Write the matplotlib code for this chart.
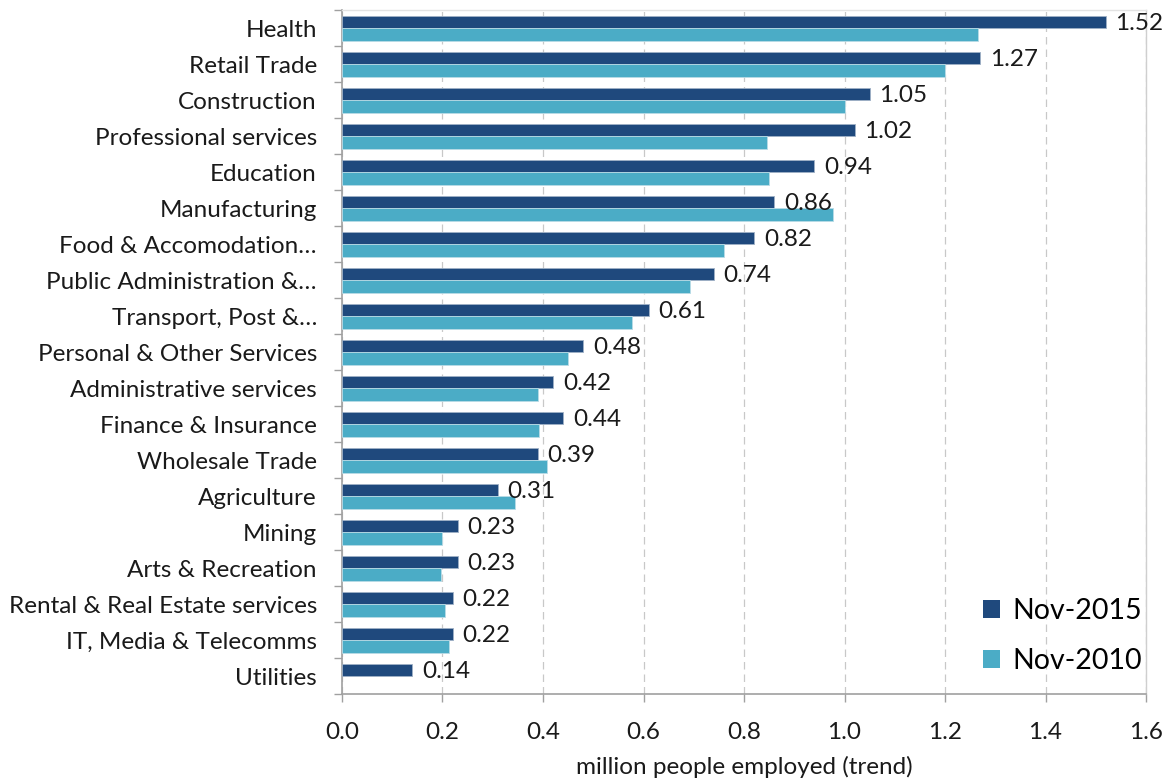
import numpy as np
import matplotlib
matplotlib.use("Agg")
import matplotlib.pyplot as plt
from matplotlib.ticker import FixedLocator

plt.rcParams['font.family'] = ['Lato', 'DejaVu Sans']

industries = [
    "Health", "Retail Trade", "Construction", "Professional services",
    "Education", "Manufacturing", "Food & Accomodation…",
    "Public Administration &…", "Transport, Post &…",
    "Personal & Other Services", "Administrative services",
    "Finance & Insurance", "Wholesale Trade", "Agriculture", "Mining",
    "Arts & Recreation", "Rental & Real Estate services",
    "IT, Media & Telecomms", "Utilities",
]
nov_2015 = [1.52, 1.27, 1.05, 1.02, 0.94, 0.86, 0.82, 0.74, 0.61, 0.48,
            0.42, 0.44, 0.39, 0.31, 0.23, 0.23, 0.22, 0.22, 0.14]
nov_2010 = [1.266, 1.20, 1.00, 0.846, 0.85, 0.977, 0.76, 0.693, 0.577, 0.45,
            0.39, 0.392, 0.408, 0.344, 0.199, 0.197, 0.205, 0.213, np.nan]
series_names = ["Nov-2015", "Nov-2010"]
x_ticks = [0.0, 0.2, 0.4, 0.6, 0.8, 1.0, 1.2, 1.4, 1.6]

dark = "#1F497D"
light = "#4BACC6"
grid_grey = "#c8c8c8"
axis_grey = "#a0a0a0"
text_col = "#1a1a1a"
fs = 17.5

fig = plt.figure(figsize=(11.7, 7.8), dpi=100)
ax = fig.add_axes([0.2923, 0.110, 0.6872, 0.877])

y = np.arange(len(industries))
h = 0.35
b15 = ax.barh(y - h / 2, nov_2015, height=h, color=dark,
              edgecolor="#9fb1c6", linewidth=0.6, label=series_names[0], zorder=3)
b10 = ax.barh(y + h / 2, nov_2010, height=h, color=light,
              edgecolor="#b9dbe6", linewidth=0.6, label=series_names[1], zorder=3)

for rect, val in zip(b15, nov_2015):
    ax.annotate(f"{val:.2f}", xy=(rect.get_width(), rect.get_y() + rect.get_height() / 2 + 0.05),
                xytext=(7, 0), textcoords="offset points",
                ha="left", va="center", fontsize=fs, color=text_col, zorder=4)

ax.set_ylim(len(industries) - 0.5, -0.5)
ax.set_xlim(0, 1.6)

ax.set_yticks(y)
ax.set_yticklabels(industries, fontsize=fs, color=text_col)
ax.yaxis.set_minor_locator(FixedLocator(np.arange(-0.5, len(industries), 1.0)))
ax.tick_params(axis="y", which="major", length=0, pad=18)
ax.tick_params(axis="y", which="minor", length=6, width=1, color=axis_grey)

ax.xaxis.set_major_locator(FixedLocator(x_ticks))
ax.set_xticklabels([f"{t:.1f}" for t in x_ticks], fontsize=fs, color=text_col)
ax.tick_params(axis="x", which="major", length=6, width=1, color=axis_grey, pad=14)
ax.set_xlabel("million people employed (trend)", fontsize=fs, color=text_col, labelpad=9)

ax.grid(axis="x", color=grid_grey, linestyle=(0, (6, 4)), linewidth=0.9, zorder=0)

for side in ("left", "bottom"):
    ax.spines[side].set_color(axis_grey)
    ax.spines[side].set_linewidth(1.2)
ax.spines["top"].set_color("#e3e3e3")
ax.spines["right"].set_color("#cfcfcf")
ax.spines["top"].set_linewidth(1.0)
ax.spines["right"].set_linewidth(1.0)

leg = ax.legend(loc="lower right", bbox_to_anchor=(1.02, 0.0), frameon=False,
                fontsize=20.5, handlelength=0.6, handleheight=0.6,
                handletextpad=0.45, labelspacing=0.85, borderaxespad=0.3)
for handle in leg.legend_handles:
    handle.set_linewidth(0)

fig.savefig("out.png", dpi=100, facecolor="white")
